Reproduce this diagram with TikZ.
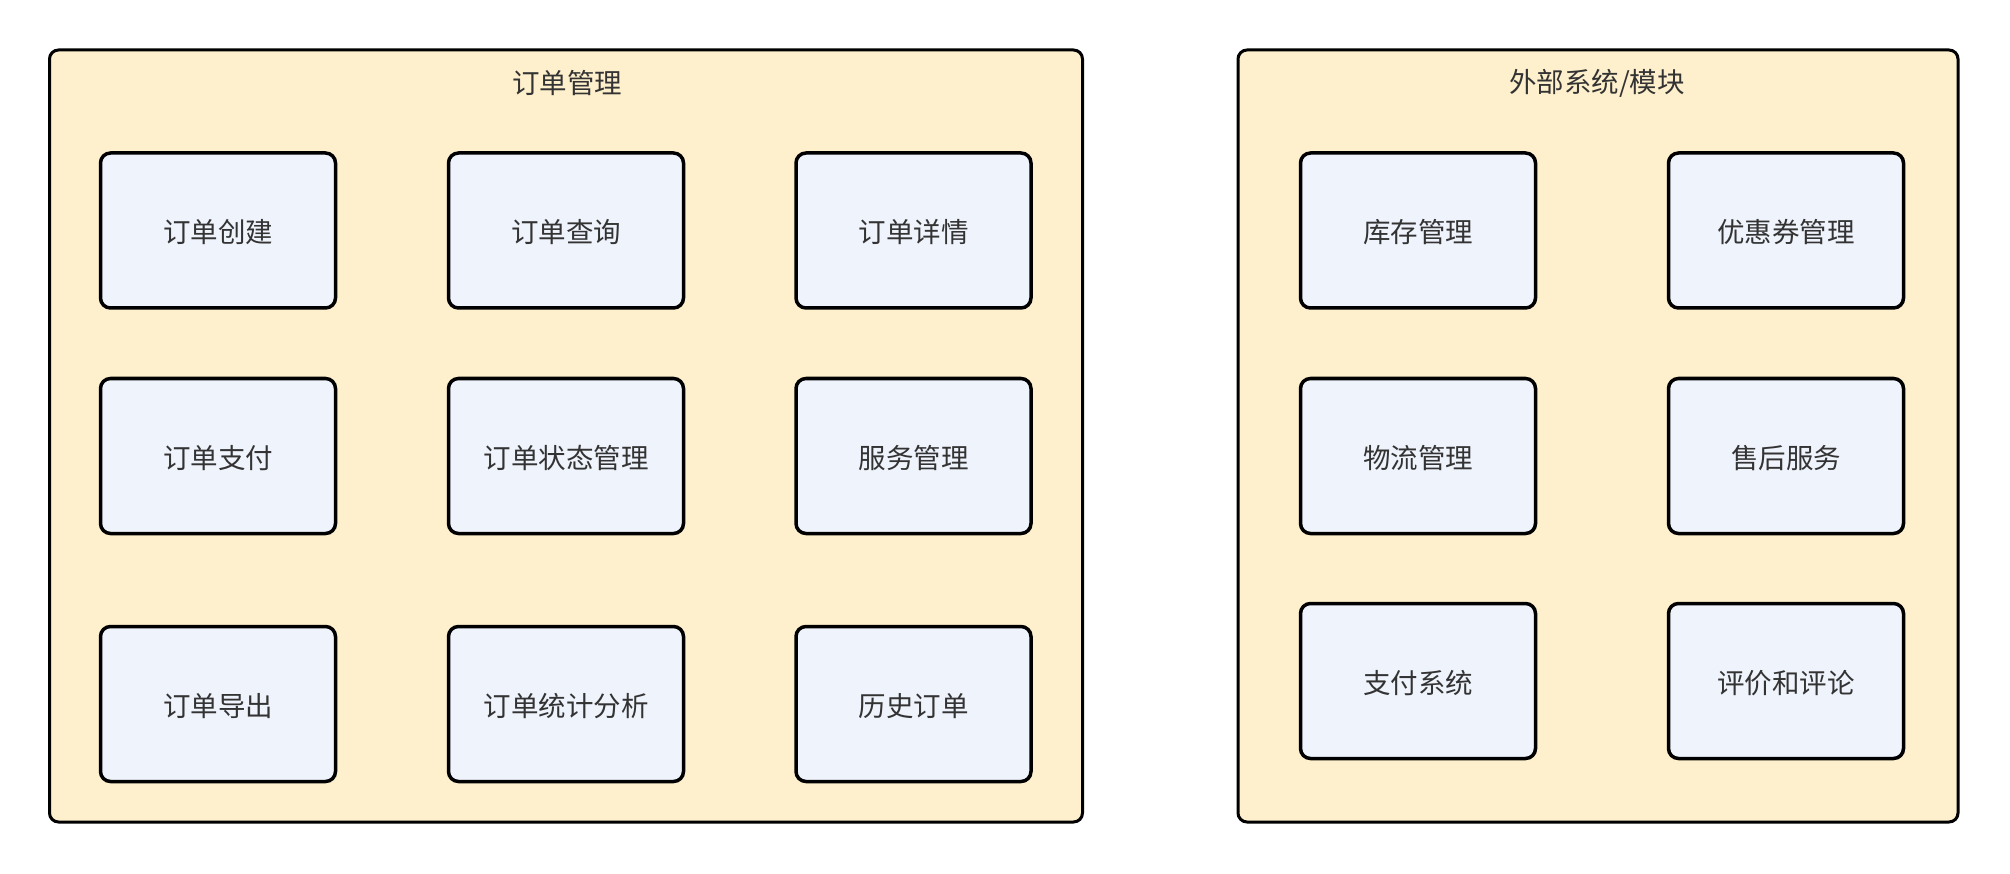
\documentclass[tikz,border=0pt]{standalone}
\usepackage{fontspec}
\newfontfamily\cjk{Noto Sans CJK SC}
\begin{document}
\begin{tikzpicture}[x=1pt,y=-1pt,
  groupbox/.style={draw=black, line width=3pt, fill=groupfill, rounded corners=9pt,
    minimum width=1033pt, minimum height=772pt, inner sep=0pt},
  itembox/.style={draw=black, line width=3.5pt, fill=itemfill, rounded corners=10pt,
    minimum width=235pt, minimum height=155pt, inner sep=0pt,
    text depth=0pt, text height=0pt, text=textgray,
    font=\cjk\fontsize{27.5}{32}\selectfont},
  grouptitle/.style={font=\cjk\fontsize{27.5}{32}\selectfont, text=textgray}]
\definecolor{groupfill}{HTML}{FEF0CD}
\definecolor{itemfill}{HTML}{EFF3FC}
\definecolor{textgray}{HTML}{333333}
\newcommand{\itemtext}[1]{\raisebox{-12pt}{#1}}
\useasboundingbox (0,0) rectangle (2010,874);
\fill[white] (0,0) rectangle (2010,874);
% containers
\node[groupbox] (order) at (566,436) {};
\node[groupbox, minimum width=720pt] (ext) at (1598,436) {};
\node[grouptitle] (ordertitle) at (567,83) {订单管理};
\node[grouptitle] (exttitle) at (1597,83) {外部系统/模块};
% order management modules
\node[itembox] (create) at (218,230.5) {\itemtext{订单创建}};
\node[itembox] (query) at (566,230.5) {\itemtext{订单查询}};
\node[itembox] (detail) at (913.5,230.5) {\itemtext{订单详情}};
\node[itembox] (pay) at (218,456) {\itemtext{订单支付}};
\node[itembox] (status) at (566,456) {\itemtext{订单状态管理}};
\node[itembox] (service) at (913.5,456) {\itemtext{服务管理}};
\node[itembox] (export) at (218,704) {\itemtext{订单导出}};
\node[itembox] (stats) at (566,704) {\itemtext{订单统计分析}};
\node[itembox] (history) at (913.5,704) {\itemtext{历史订单}};
% external systems
\node[itembox] (stock) at (1418,230.5) {\itemtext{库存管理}};
\node[itembox] (coupon) at (1786,230.5) {\itemtext{优惠券管理}};
\node[itembox] (logistics) at (1418,456) {\itemtext{物流管理}};
\node[itembox] (aftersale) at (1786,456) {\itemtext{售后服务}};
\node[itembox] (paysys) at (1418,681) {\itemtext{支付系统}};
\node[itembox] (review) at (1786,681) {\itemtext{评价和评论}};
\end{tikzpicture}
\end{document}
